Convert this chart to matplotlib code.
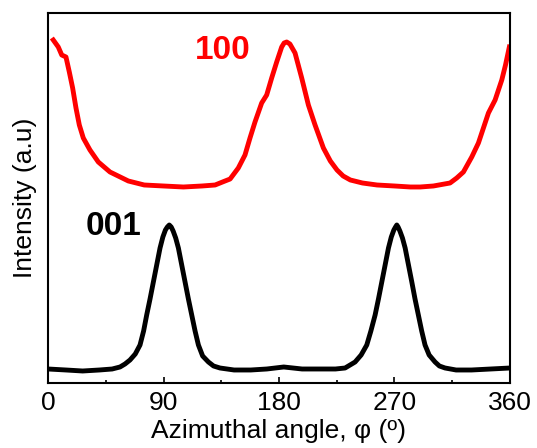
import matplotlib
matplotlib.use("Agg")
import matplotlib.pyplot as plt
from matplotlib.ticker import MultipleLocator

plt.rcParams['font.family'] = ['Liberation Sans', 'DejaVu Sans']

# (001) reflection, black
phi_001 = [0, 14, 27, 40, 50, 56.1, 60, 63.9, 68, 71.7, 74.5, 76.9, 79.5, 82.1,
           84.7, 87.3, 89.5, 91.5, 93, 94.5, 96, 97.5, 99.5, 101.6, 104.2, 106.8,
           109.4, 112, 114.6, 117.2, 120.5, 125, 129, 134, 145, 158, 170.5, 183.7,
           198, 212, 224, 231.5, 239.3, 244, 248.4, 251.6, 254.9, 257.5, 260.1,
           262.7, 265.3, 267.5, 269.5, 270.8, 271.8, 272.8, 274.2, 276.2, 278.3,
           280.9, 283.5, 286, 288.6, 291.2, 293.8, 297, 301.6, 305, 309.4, 318,
           330, 345, 360]
int_001 = [14, 13, 12, 13, 14, 16, 19, 23, 29, 38, 52, 68, 84, 101,
           118, 135, 146, 153, 156, 158, 156, 152, 145, 135, 118, 101,
           84, 68, 52, 38, 27, 21, 17, 15, 13, 13, 14, 16,
           14, 14, 14, 15, 21, 28, 38, 52, 68, 84, 101,
           118, 135, 146, 153, 156, 158, 156, 152, 145, 135,
           118, 101, 84, 68, 52, 38, 28, 21, 17, 15, 13,
           13, 14, 15]

# (100) reflection, red
phi_100 = [4.1, 8, 10.7, 14, 16.6, 19.2, 21.8, 24.4, 27.5, 32.7, 39.2, 48.3,
           62.6, 75, 90, 105.5, 120, 130.2, 136, 141.9, 148.3, 153.5, 157.4,
           161.3, 166.5, 170.4, 174.3, 178.2, 182.1, 184, 186, 188.5, 192.5,
           197.7, 202.9, 208.1, 214.6, 220, 225.2, 230, 235.6, 245, 256.4, 270,
           282.4, 290, 300.3, 313.3, 318.5, 323.7, 330.2, 335.4, 339.3, 343.2,
           348.4, 353.6, 356.5, 359.5]
int_100 = [343, 336, 328, 326, 311, 295, 275, 258, 245, 233, 221, 211,
           202, 198, 197, 196, 197, 198, 201, 204, 215, 228, 245,
           261, 280, 288, 305, 321, 336, 340, 341, 339, 330,
           305, 278, 258, 235, 222, 213, 207, 203, 200, 198, 197,
           196, 196, 197, 200, 205, 211, 226, 240, 255, 270,
           283, 303, 318, 336]

fig = plt.figure(figsize=(5.37, 4.48), dpi=100)
ax = fig.add_axes([0.0894, 0.1451, 0.8603, 0.8259])

ax.plot(phi_001, int_001, color='black', lw=3.5, solid_joinstyle='round')
ax.plot(phi_100, int_100, color='red', lw=3.5, solid_joinstyle='round')

ax.text(51, 156, '001', color='black', fontsize=24, fontweight='bold',
        ha='center', va='center')
ax.text(136, 332, '100', color='red', fontsize=24, fontweight='bold',
        ha='center', va='center')

ax.set_xlim(0, 360)
ax.set_ylim(0, 370)
ax.xaxis.set_major_locator(MultipleLocator(90))
ax.xaxis.set_minor_locator(MultipleLocator(45))
ax.set_yticks([])
ax.tick_params(axis='x', which='major', direction='in', length=4.5, width=1.2,
               labelsize=19, pad=6)
ax.tick_params(axis='x', which='minor', direction='in', length=2.5, width=1.2)
for s in ax.spines.values():
    s.set_linewidth(1.5)

ax.set_xlabel('Azimuthal angle, φ (º)', fontsize=19, labelpad=3)
ax.set_ylabel('Intensity (a.u)', fontsize=19, labelpad=8)

fig.savefig('out.png', dpi=100)
